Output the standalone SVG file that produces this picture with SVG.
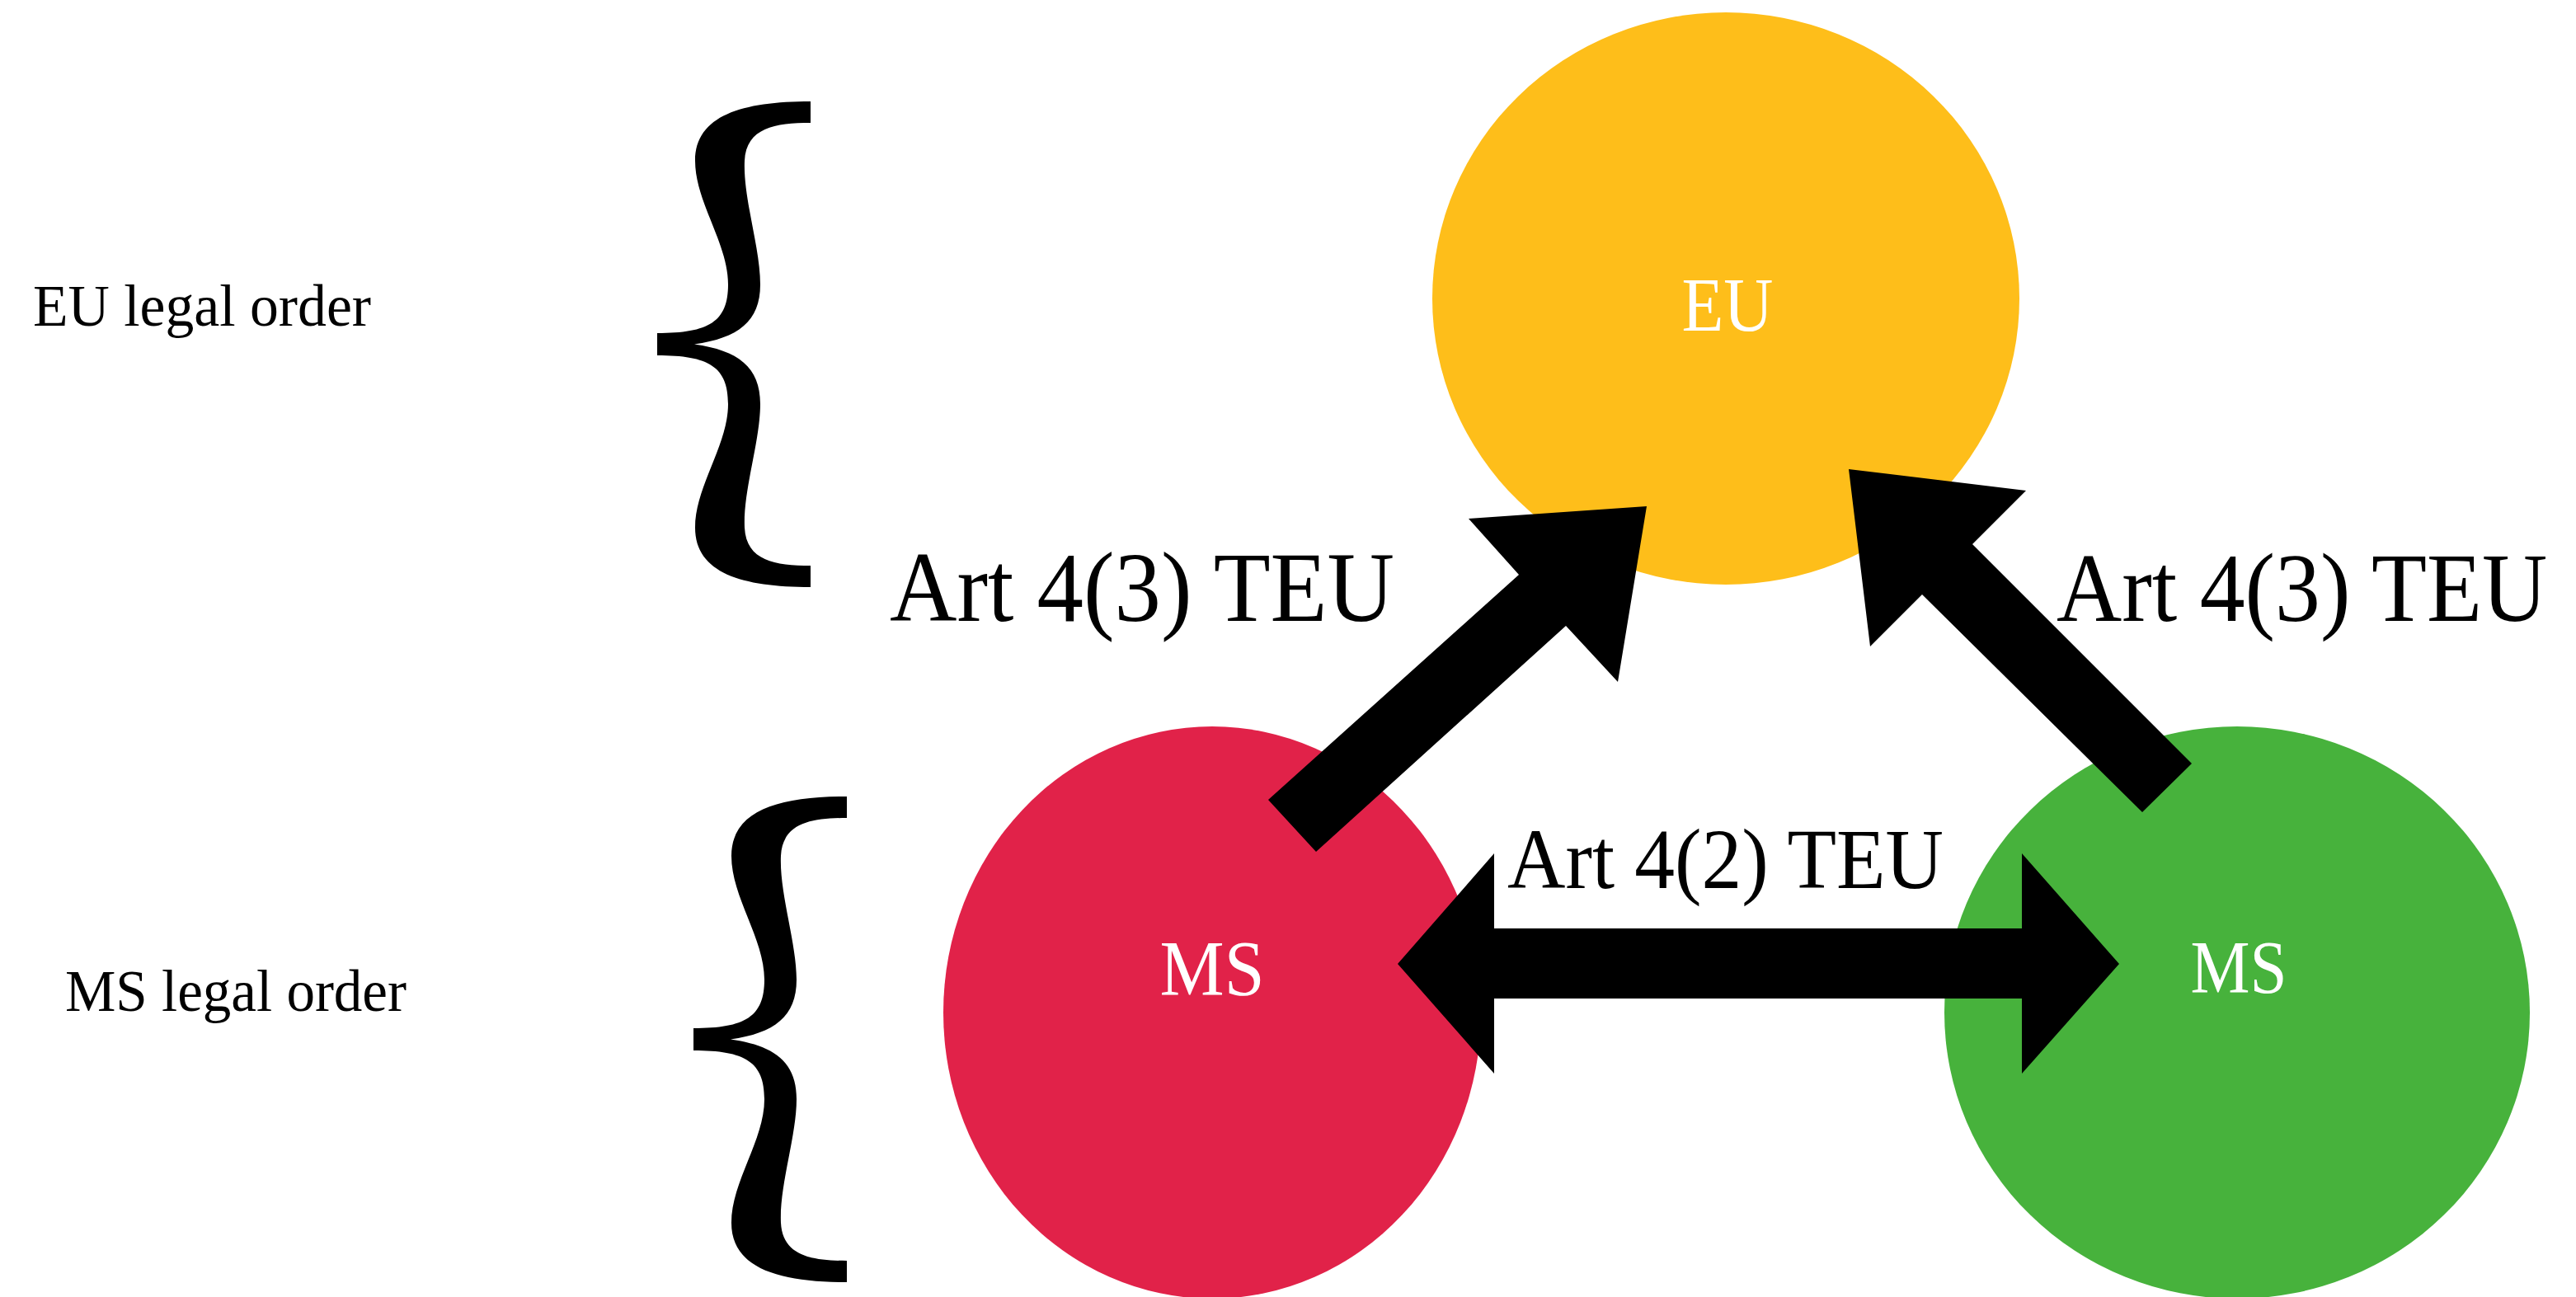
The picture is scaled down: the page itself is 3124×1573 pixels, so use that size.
<svg xmlns="http://www.w3.org/2000/svg" width="3124" height="1573" viewBox="0 0 3124 1573">
  <style>
    .lbl { font-family: "Liberation Serif", "DejaVu Serif", serif; fill: #000; }
    .node-text { font-family: "Liberation Serif", "DejaVu Serif", serif; fill: #fff; text-anchor: middle; }
    .arrow { fill: #000; stroke: none; }
    .brace { fill: #000; stroke: none; }
  </style>
  <defs>
    <path id="brace-shape" d="M 983 123 L 983 149 C 940 149 905 155 903 195 C 901 240 922 300 922 345 C 922 390 895 410 842 417.5 C 895 425 922 445 922 490 C 922 535 901 595 903 640 C 905 680 940 686 983 686 L 983 712 C 900 712 843 695 843 640 C 843 590 883 540 883 490 C 883 445 860 431 797 431 L 797 404 C 860 404 883 390 883 345 C 883 295 843 245 843 195 C 843 140 900 123 983 123 Z"/>
  </defs>
  <rect x="0" y="0" width="3124" height="1573" fill="#fff"/>

  <g id="label-eu-order">
    <text class="lbl" x="40" y="395" font-size="72" textLength="410" lengthAdjust="spacingAndGlyphs">EU legal order</text>
    <use href="#brace-shape" class="brace"/>
  </g>
  <g id="label-ms-order">
    <text class="lbl" x="79" y="1226" font-size="72" textLength="414" lengthAdjust="spacingAndGlyphs">MS legal order</text>
    <use href="#brace-shape" class="brace" transform="translate(44,843)"/>
  </g>

  <g id="node-eu">
    <ellipse cx="2093" cy="362" rx="356" ry="347" fill="#FEBE1A"/>
    <text class="node-text" x="2095" y="401" font-size="94" textLength="111" lengthAdjust="spacingAndGlyphs">EU</text>
  </g>
  <g id="node-ms-left">
    <ellipse cx="1470" cy="1228" rx="326" ry="347" fill="#E12249"/>
    <text class="node-text" x="1470" y="1207" font-size="96" textLength="127" lengthAdjust="spacingAndGlyphs">MS</text>
  </g>
  <g id="node-ms-right">
    <ellipse cx="2713" cy="1228" rx="355" ry="347" fill="#47B23C"/>
    <text class="node-text" x="2715" y="1204" font-size="90" textLength="117" lengthAdjust="spacingAndGlyphs">MS</text>
  </g>

  <g id="connectors">
    <polygon class="arrow" points="1538,970 1842,697 1781,629 1997,614 1962,827 1899,759 1596,1033"/>
    <polygon class="arrow" points="2242,569 2457,595 2392,660 2658,926 2598,985 2331,721 2268,784"/>
    <polygon class="arrow" points="1695,1169 1812,1035 1812,1126 2452,1126 2452,1035 2570,1169 2452,1302 2452,1211 1812,1211 1812,1302"/>
    <text class="lbl" x="1079" y="753" font-size="120" textLength="612" lengthAdjust="spacingAndGlyphs">Art 4(3) TEU</text>
    <text class="lbl" x="0" y="0" font-size="118" transform="translate(2494,753) scale(0.93,1)">Art 4(3) TEU</text>
    <text class="lbl" x="1828" y="1077" font-size="104" textLength="529" lengthAdjust="spacingAndGlyphs">Art 4(2) TEU</text>
  </g>
</svg>
